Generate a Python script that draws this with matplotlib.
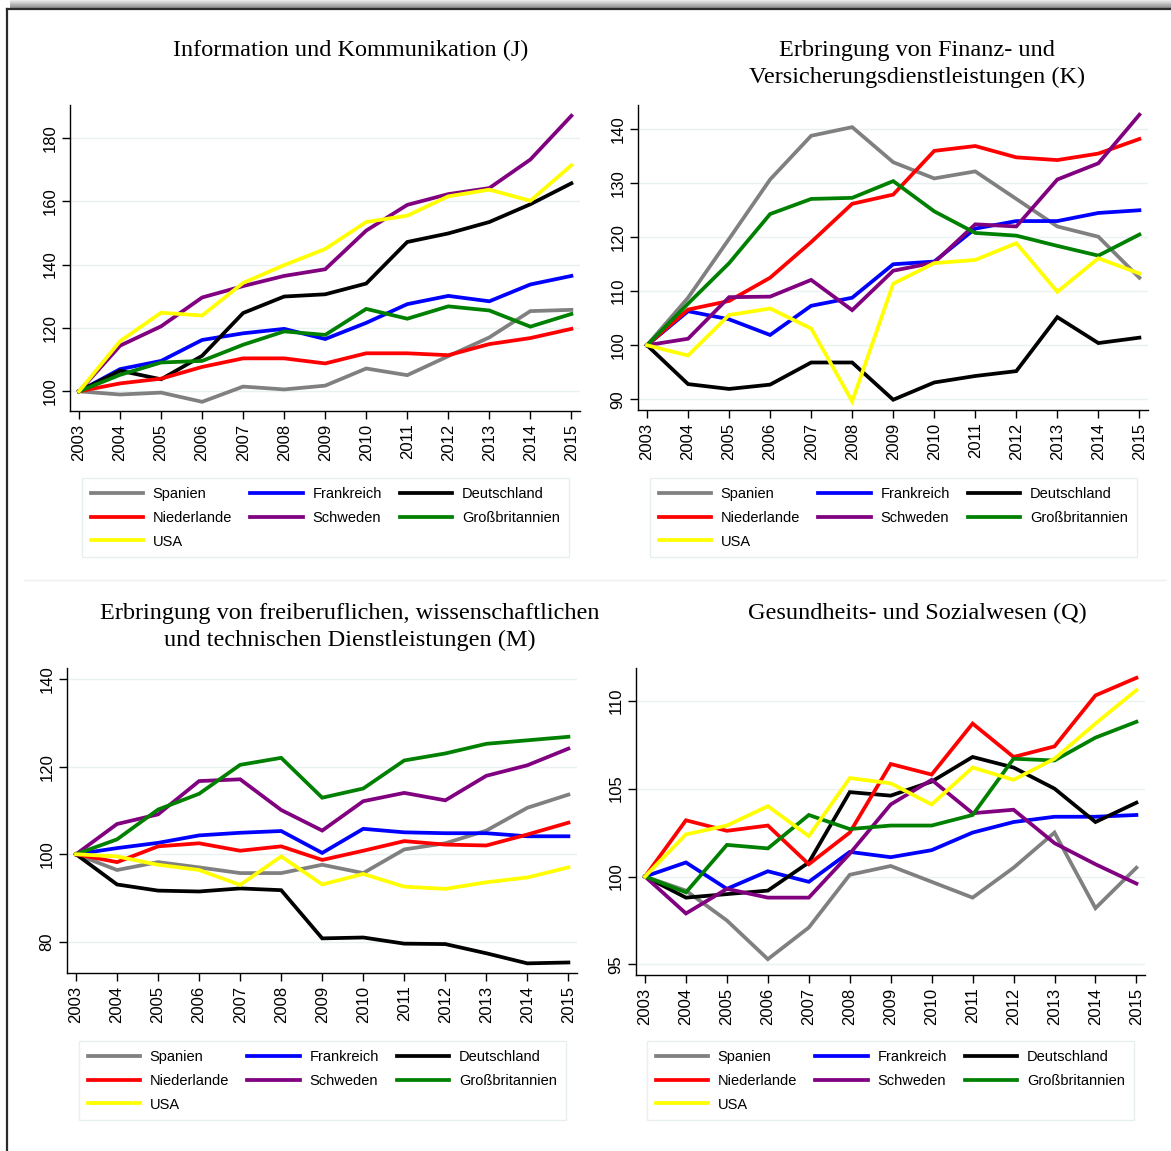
import numpy as np
import matplotlib.pyplot as plt
from matplotlib.lines import Line2D

# years and countries shared by all four panels
years = list(range(2003, 2016))
countries = ['Spanien', 'Frankreich', 'Deutschland', 'Niederlande',
             'Schweden', 'Großbritannien', 'USA']
colors = ['#808080', '#0000ff', '#000000', '#ff0000',
          '#800080', '#008000', '#ffff00']

# index values (2003 = 100), rows in the order of `countries`
info_komm = [
    [100, 99.0, 99.6, 96.7, 101.5, 100.6, 101.8, 107.2, 105.1, 111.1, 117.0, 125.3, 125.7],
    [100, 107.0, 109.6, 116.2, 118.3, 119.7, 116.5, 121.6, 127.5, 130.1, 128.4, 133.7, 136.4],
    [100, 106.5, 103.8, 111.2, 124.7, 129.9, 130.6, 134.0, 147.1, 149.8, 153.4, 159.0, 165.6],
    [100, 102.5, 104.0, 107.7, 110.4, 110.4, 108.8, 112.0, 112.0, 111.4, 114.9, 116.8, 119.7],
    [100, 114.4, 120.5, 129.6, 133.2, 136.4, 138.5, 150.7, 158.8, 162.2, 164.1, 173.1, 186.9],
    [100, 105.2, 109.1, 109.6, 114.7, 118.9, 117.8, 126.0, 122.9, 126.8, 125.5, 120.4, 124.4],
    [100, 115.8, 124.8, 123.9, 134.2, 139.8, 144.9, 153.4, 155.4, 161.5, 163.6, 160.1, 171.3],
]

finanz = [
    [100, 108.8, 119.7, 130.7, 138.8, 140.4, 133.9, 130.9, 132.2, 127.1, 122.0, 120.1, 112.5],
    [100, 106.3, 104.8, 101.9, 107.3, 108.8, 115.0, 115.5, 121.6, 123.0, 123.0, 124.5, 125.0],
    [100, 92.8, 91.9, 92.7, 96.8, 96.8, 89.9, 93.1, 94.3, 95.2, 105.2, 100.4, 101.4],
    [100, 106.6, 108.2, 112.5, 119.1, 126.2, 127.9, 136.0, 136.9, 134.8, 134.3, 135.5, 138.2],
    [100, 101.2, 108.9, 109.0, 112.1, 106.5, 113.8, 115.3, 122.4, 122.0, 130.7, 133.7, 142.7],
    [100, 107.7, 115.2, 124.3, 127.1, 127.3, 130.4, 124.8, 120.8, 120.3, 118.4, 116.6, 120.5],
    [100, 98.1, 105.6, 106.8, 103.1, 89.6, 111.4, 115.2, 115.8, 118.9, 109.9, 116.1, 113.3],
]

freiberuf = [
    [100, 96.4, 98.2, 97.0, 95.7, 95.7, 97.6, 95.7, 101.1, 102.5, 105.4, 110.6, 113.6],
    [100, 101.4, 102.6, 104.3, 104.9, 105.3, 100.3, 105.8, 105.0, 104.8, 104.8, 104.1, 104.1],
    [100, 93.1, 91.7, 91.5, 92.2, 91.8, 80.8, 81.0, 79.6, 79.5, 77.4, 75.1, 75.3],
    [100, 98.2, 101.8, 102.5, 100.8, 101.8, 98.7, 100.8, 103.0, 102.2, 102.0, 104.5, 107.2],
    [100, 106.9, 109.1, 116.7, 117.1, 110.1, 105.4, 112.1, 114.0, 112.3, 117.9, 120.3, 124.1],
    [100, 103.4, 110.2, 113.8, 120.4, 122.0, 112.9, 115.0, 121.4, 123.0, 125.2, 126.0, 126.8],
    [100, 99.5, 97.6, 96.4, 93.0, 99.5, 93.1, 95.5, 92.6, 92.1, 93.6, 94.7, 97.0],
]

gesundheit = [
    [100, 99.2, 97.5, 95.3, 97.1, 100.1, 100.6, 99.7, 98.8, 100.5, 102.5, 98.2, 100.5],
    [100, 100.8, 99.3, 100.3, 99.7, 101.4, 101.1, 101.5, 102.5, 103.1, 103.4, 103.4, 103.5],
    [100, 98.8, 99.0, 99.2, 100.8, 104.8, 104.6, 105.4, 106.8, 106.2, 105.0, 103.1, 104.2],
    [100, 103.2, 102.6, 102.9, 100.7, 102.5, 106.4, 105.8, 108.7, 106.8, 107.4, 110.3, 111.3],
    [100, 97.9, 99.3, 98.8, 98.8, 101.3, 104.1, 105.5, 103.6, 103.8, 101.9, 100.7, 99.6],
    [100, 99.1, 101.8, 101.6, 103.5, 102.7, 102.9, 102.9, 103.5, 106.7, 106.6, 107.9, 108.8],
    [100, 102.4, 102.9, 104.0, 102.3, 105.6, 105.3, 104.1, 106.2, 105.5, 106.7, 108.7, 110.6],
]

W, H = 1171, 1151
fig = plt.figure(figsize=(W / 100, H / 100), dpi=100)

# frame around the picture (shadow on top, dark border left/top)
bg = fig.add_axes([0, 0, 1, 1], zorder=-5)
grad = np.linspace(0.93, 0.55, 20).reshape(-1, 1)
bg.imshow(grad, extent=(10, W, 8, 0), aspect='auto', cmap='gray', vmin=0, vmax=1)
bg.plot([6.5, W], [8.5, 8.5], color='#2b2b2b', lw=1.6)
bg.plot([6.5, 6.5], [8.5, H], color='#2b2b2b', lw=1.6)
bg.plot([24, 1165], [580, 580], color='#efefef', lw=1)
bg.set_xlim(0, W)
bg.set_ylim(H, 0)
bg.axis('off')


def px_axes(x0, y0, x1, y1):
    return fig.add_axes([x0 / W, 1 - y1 / H, (x1 - x0) / W, (y1 - y0) / H])


def draw_panel(data, title, box, ylim, yticks, title_xy, legend_xy):
    ax = px_axes(*box)
    for vals, col in zip(data, colors):
        ax.plot(years, vals, color=col, lw=2.7, solid_joinstyle='miter')
    ax.set_xlim(2002.78, 2015.21)
    ax.set_ylim(*ylim)
    ax.set_xticks(years)
    ax.set_xticklabels([str(y) for y in years], rotation=90)
    ax.set_yticks(yticks)
    ax.set_yticklabels([str(t) for t in yticks], rotation=90, va='center')
    for t in yticks:
        ax.axhline(t, color='#e9f1f3', lw=1, zorder=0)
    for s in ['top', 'right']:
        ax.spines[s].set_visible(False)
    for s in ['left', 'bottom']:
        ax.spines[s].set_linewidth(1)
    ax.tick_params(direction='out', length=6, width=1, labelsize=12, pad=3)
    for lab in ax.get_xticklabels() + ax.get_yticklabels():
        lab.set_fontfamily('Liberation Sans')

    fig.text(title_xy[0] / W, 1 - title_xy[1] / H, title, ha='center', va='center',
             fontsize=17.5, family='Liberation Serif', linespacing=1.3)

    # legend filled column-wise so rows read Spanien, Frankreich, Deutschland ...
    order = [0, 3, 6, 1, 4, 2, 5]
    handles = [Line2D([], [], color=colors[i], lw=2.7) for i in order]
    labels = [countries[i] for i in order]
    fig.legend(handles, labels, loc='upper left',
               bbox_to_anchor=(legend_xy[0] / W, 1 - legend_xy[1] / H),
               ncol=3, frameon=True, fancybox=False, edgecolor='#e3ecec',
               borderaxespad=0, handlelength=3.6, handletextpad=0.65,
               columnspacing=1.25, labelspacing=0.68, borderpad=0.6,
               prop={'family': 'Liberation Sans', 'size': 10.5})


draw_panel(info_komm, 'Information und Kommunikation (J)',
           (70, 105, 580, 411), (93.8, 190.3), [100, 120, 140, 160, 180],
           (351, 50), (82, 478))
draw_panel(finanz, 'Erbringung von Finanz- und\nVersicherungsdienstleistungen (K)',
           (638, 105, 1148, 410), (88, 144.5), [90, 100, 110, 120, 130, 140],
           (917, 64), (650, 478))
draw_panel(freiberuf, 'Erbringung von freiberuflichen, wissenschaftlichen\n'
           'und technischen Dienstleistungen (M)',
           (67, 668, 577, 973), (72.9, 142.5), [80, 100, 120, 140],
           (350, 627), (79, 1041))
draw_panel(gesundheit, 'Gesundheits- und Sozialwesen (Q)',
           (636, 668, 1145, 975), (94.4, 111.86), [95, 100, 105, 110],
           (917, 613), (647, 1041))

fig.savefig('out.png', dpi=100)
